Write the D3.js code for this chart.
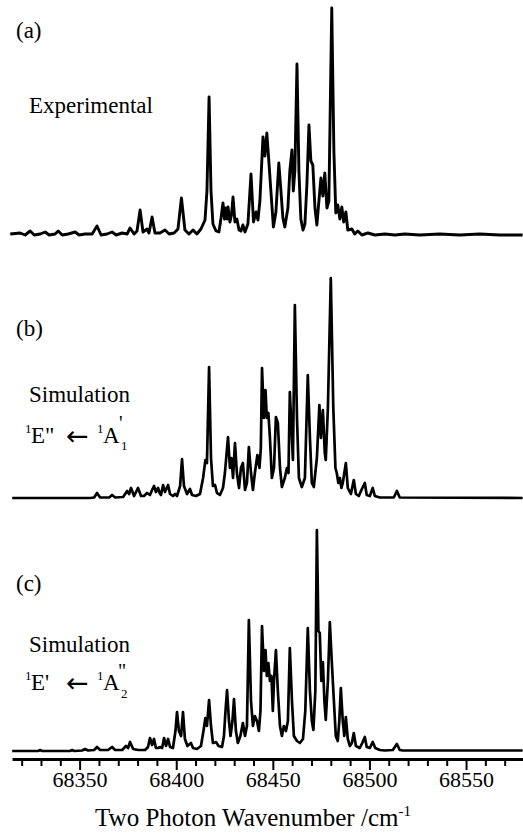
<!DOCTYPE html>
<html>
<head>
<meta charset="utf-8">
<script src="https://cdn.jsdelivr.net/npm/d3@7"></script>
<style>
  html, body { margin: 0; padding: 0; background: #fff; }
  svg { display: block; }
</style>
</head>
<body>
<div id="chart"></div>
<script>
// ---- data: [wavenumber (cm-1), intensity (arb.)] ----
const experimental = [
  [68314.1,2],[68319.2,3],[68321.8,1],[68324.4,5],[68326.5,1],[68329.6,2],[68332.2,4],[68334.2,1],
  [68337.3,2],[68338.9,5],[68341.0,1],[68344.1,2],[68347.7,4],[68349.7,1],[68352.8,2],[68356.5,2],
  [68359.0,10],[68361.1,1],[68364.2,2],[68366.8,4],[68368.9,1],[68372.0,3],[68374.6,2],[68376.1,8],
  [68378.2,2],[68379.7,5],[68381.3,26],[68382.8,4],[68384.9,7],[68385.9,3],[68387.5,19],[68389.0,3],
  [68391.6,3],[68394.2,6],[68396.3,2],[68398.9,3],[68400.9,7],[68402.7,38],[68404.5,6],[68406.6,2],
  [68408.7,6],[68410.7,2],[68412.8,7],[68414.9,16],[68415.9,45],[68417.0,139],[68418.0,45],[68419.0,12],
  [68420.6,5],[68422.1,4],[68423.2,18],[68424.2,33],[68425.0,17],[68425.7,28],[68426.3,17],[68426.8,29],
  [68427.8,14],[68428.6,21],[68429.4,39],[68430.4,14],[68431.4,17],[68432.5,6],[68433.5,5],[68434.5,11],
  [68435.6,4],[68437.1,12],[68438.7,62],[68440.0,14],[68441.3,24],[68442.3,16],[68443.3,35],[68444.9,99],
  [68445.9,80],[68446.9,103],[68448.0,73],[68449.0,45],[68450.3,9],[68451.6,24],[68453.1,73],[68454.2,45],
  [68455.2,18],[68456.2,9],[68457.8,28],[68458.8,65],[68459.9,86],[68460.6,45],[68461.4,65],[68462.5,172],
  [68463.5,65],[68464.5,17],[68465.6,6],[68466.6,12],[68467.6,50],[68468.7,111],[68469.7,75],[68470.7,71],
  [68471.8,28],[68472.8,11],[68473.8,34],[68474.9,58],[68475.9,40],[68476.9,63],[68478.0,28],[68479.0,35],
  [68480.5,228],[68481.6,85],[68482.6,23],[68483.6,31],[68484.7,17],[68485.7,29],[68486.7,14],[68487.8,24],
  [68488.8,6],[68490.9,7],[68492.4,2],[68494.0,5],[68496.1,1],[68499.2,3],[68502.8,1],[68508.0,2],
  [68513.1,1],[68518.3,2],[68526.0,1],[68536.4,2],[68546.7,1],[68557.1,2],[68567.4,1],[68579.3,1]
];

const simEpp = [
  [68315.1,0],[68355.4,0],[68357.5,0.5],[68359.0,5],[68360.6,0.5],[68365.3,0.5],[68366.8,3],[68368.4,0.5],
  [68372.5,1],[68374.6,7],[68375.6,4],[68376.6,10],[68378.2,2],[68380.2,10],[68381.8,2],[68383.3,2],
  [68384.9,5],[68386.4,3],[68387.5,8],[68388.5,12],[68389.5,6],[68390.6,10],[68391.4,5],[68392.1,3],
  [68393.2,13],[68394.2,6],[68395.8,13],[68396.8,4],[68398.3,2],[68399.4,4],[68400.4,2],[68402.0,12],
  [68403.0,39],[68404.0,12],[68405.6,4],[68407.1,9],[68408.2,3],[68410.2,2],[68412.3,4],[68413.9,20],
  [68415.1,38],[68415.9,35],[68417.0,131],[68418.0,40],[68419.0,12],[68420.1,13],[68421.1,5],[68422.6,3],
  [68424.2,10],[68425.2,25],[68426.8,61],[68427.8,30],[68428.6,40],[68429.4,20],[68430.4,55],[68431.4,25],
  [68432.5,10],[68433.5,30],[68434.5,35],[68435.6,8],[68436.6,15],[68437.6,51],[68438.7,25],[68439.7,8],
  [68440.7,25],[68442.0,43],[68443.1,30],[68443.8,50],[68444.4,130],[68445.4,80],[68446.2,108],[68446.9,80],
  [68447.7,85],[68448.5,60],[68449.5,20],[68450.6,30],[68451.6,81],[68452.6,75],[68453.7,30],[68454.7,11],
  [68456.2,20],[68457.3,30],[68458.1,25],[68458.8,106],[68459.9,60],[68460.4,38],[68461.4,193],[68462.5,80],
  [68463.5,20],[68465.0,11],[68466.6,20],[68468.1,123],[68469.2,60],[68470.2,15],[68471.2,11],[68472.8,40],
  [68474.1,93],[68474.9,60],[68475.9,88],[68476.9,45],[68477.4,38],[68478.5,90],[68480.0,220],[68481.3,90],
  [68482.4,30],[68483.1,25],[68483.9,15],[68484.7,20],[68485.5,10],[68486.2,15],[68487.8,35],[68488.8,10],
  [68490.4,4],[68491.9,18],[68493.0,4],[68494.5,2],[68496.1,9],[68497.6,15],[68498.6,3],[68500.2,2],
  [68501.7,10],[68502.8,2],[68505.4,0.5],[68512.6,0.5],[68514.2,7],[68515.7,0.5],[68579.3,0]
];

const simEp = [
  [68315.1,0],[68328.5,0],[68329.6,1],[68330.6,0],[68345.1,0],[68346.1,1],[68347.2,0],[68351.3,0.5],
  [68352.8,2],[68354.4,0.5],[68357.5,1],[68359.0,4],[68360.6,1],[68364.7,1],[68366.8,4],[68368.4,1],
  [68372.0,1],[68374.0,5],[68375.1,3],[68376.1,9],[68377.7,2],[68380.2,1],[68383.9,1],[68385.4,4],
  [68386.4,13],[68387.5,6],[68388.5,12],[68389.5,3],[68390.6,3],[68391.6,4],[68392.7,3],[68393.7,13],
  [68394.7,5],[68395.8,12],[68396.8,4],[68398.3,3],[68399.6,20],[68400.4,39],[68401.4,20],[68402.5,15],
  [68403.5,39],[68404.5,12],[68405.8,5],[68407.6,8],[68408.7,3],[68410.7,2],[68412.8,5],[68414.1,20],
  [68415.1,33],[68415.9,25],[68417.0,51],[68418.0,25],[68419.0,8],[68420.6,9],[68421.9,5],[68423.7,4],
  [68424.7,15],[68425.5,40],[68426.3,61],[68427.3,30],[68428.1,15],[68429.1,30],[68429.9,52],[68430.9,20],
  [68431.9,8],[68433.2,15],[68434.5,28],[68435.6,15],[68436.6,25],[68437.6,131],[68438.7,50],[68439.7,25],
  [68440.7,35],[68441.8,30],[68442.8,20],[68443.6,40],[68444.4,125],[68445.4,80],[68446.2,101],[68446.9,75],
  [68447.7,88],[68448.5,70],[68449.3,75],[68450.0,40],[68450.6,70],[68451.6,101],[68452.6,60],[68453.7,25],
  [68454.7,15],[68455.7,25],[68456.8,20],[68457.8,30],[68458.8,103],[68459.9,50],[68460.9,15],[68462.5,10],
  [68464.0,8],[68465.6,12],[68466.8,40],[68468.1,123],[68469.2,60],[68470.2,30],[68471.0,21],[68472.0,60],
  [68472.8,221],[68473.6,120],[68474.3,118],[68475.1,70],[68475.9,89],[68476.7,50],[68477.4,31],[68478.5,70],
  [68479.5,129],[68480.5,90],[68481.6,50],[68482.6,15],[68483.6,10],[68484.4,30],[68485.2,63],[68486.2,30],
  [68487.0,15],[68487.8,34],[68488.8,12],[68489.9,5],[68490.9,8],[68491.9,18],[68493.0,5],[68495.0,3],
  [68496.3,8],[68497.6,14],[68498.6,4],[68500.2,3],[68501.7,9],[68503.0,3],[68505.4,1],[68508.0,0.5],
  [68512.1,1],[68514.2,7],[68515.7,1],[68517.3,0.5],[68579.3,0.5]
];

const majorTicks = [68350, 68400, 68450, 68500, 68550];
const minorTicks = d3.range(68320, 68580, 10).filter(v => v % 50 !== 0);
const xDomain = [68315, 68580];

const SERIF = "'Liberation Serif', 'Tinos', 'Times New Roman', 'DejaVu Serif', serif";

// =========================
// SVG
// =========================
const W = 523, H = 835;
const svg = d3.select("#chart")
  .append("svg")
  .attr("width", W)
  .attr("height", H)
  .style("font-family", SERIF);

const x = d3.scaleLinear().domain(xDomain).range([12, 524]);

// one y scale per panel: baseline pixel and top pixel
const panels = [
  { data: experimental, base: 236, top: 8,   max: 228, sw: 2.9 },
  { data: simEpp,       base: 498, top: 278, max: 220, sw: 2.7 },
  { data: simEp,        base: 751, top: 530, max: 221, sw: 2.7 }
];

panels.forEach(p => {
  const y = d3.scaleLinear().domain([0, p.max]).range([p.base, p.top]);
  const line = d3.line().x(d => x(d[0])).y(d => y(d[1]));
  svg.append("path")
    .datum(p.data)
    .attr("fill", "none")
    .attr("stroke", "#000")
    .attr("stroke-width", p.sw)
    .attr("stroke-linejoin", "round")
    .attr("d", line);
});

// =========================
// AXIS
// =========================
const axisY = 759;
const minorAxis = svg.append("g")
  .attr("transform", `translate(0,${axisY})`)
  .call(d3.axisBottom(x).tickValues(minorTicks).tickSize(7).tickSizeOuter(0).tickFormat(""));
minorAxis.select(".domain").remove();
minorAxis.selectAll(".tick line").attr("stroke-width", 2);

const majorAxis = svg.append("g")
  .attr("transform", `translate(0,${axisY})`)
  .call(d3.axisBottom(x).tickValues(majorTicks).tickSize(11).tickSizeOuter(0).tickPadding(1).tickFormat(d3.format("d")));
majorAxis.attr("font-family", SERIF).attr("font-size", 22);
majorAxis.select(".domain").attr("stroke-width", 3);
majorAxis.selectAll(".tick line").attr("stroke-width", 2);
majorAxis.selectAll(".tick text").attr("fill", "#000");

// axis title
const title = svg.append("text")
  .attr("x", 253)
  .attr("y", 826)
  .attr("text-anchor", "middle")
  .attr("font-size", 25);
title.append("tspan").text("Two Photon Wavenumber /cm");
title.append("tspan").attr("dy", -10).attr("font-size", 15).text("-1");

// =========================
// PANEL LABELS
// =========================
const label = (tx, ty, str, size = 23) =>
  svg.append("text").attr("x", tx).attr("y", ty).attr("font-size", size).text(str);

const arrow = (tx, ty) =>
  svg.append("text").attr("x", tx).attr("y", ty)
    .attr("font-family", "'DejaVu Sans', sans-serif")
    .attr("font-size", 27).text("\u2190");

label(16, 38, "(a)");
label(29, 113, "Experimental");

label(16, 336, "(b)");
label(29, 402, "Simulation");
label(25, 433, "1", 13);
label(31, 443, "E\"");
arrow(66, 445);
label(97, 433, "1", 13);
label(103, 443, "A");
label(119, 430, "'", 20);
label(121, 450, "1", 13);

label(16, 591, "(c)");
label(29, 652, "Simulation");
label(25, 680, "1", 13);
label(31, 690, "E'");
arrow(66, 692);
label(97, 680, "1", 13);
label(103, 690, "A");
label(118, 678, "\"", 20);
label(121, 698, "2", 13);
</script>
</body>
</html>
